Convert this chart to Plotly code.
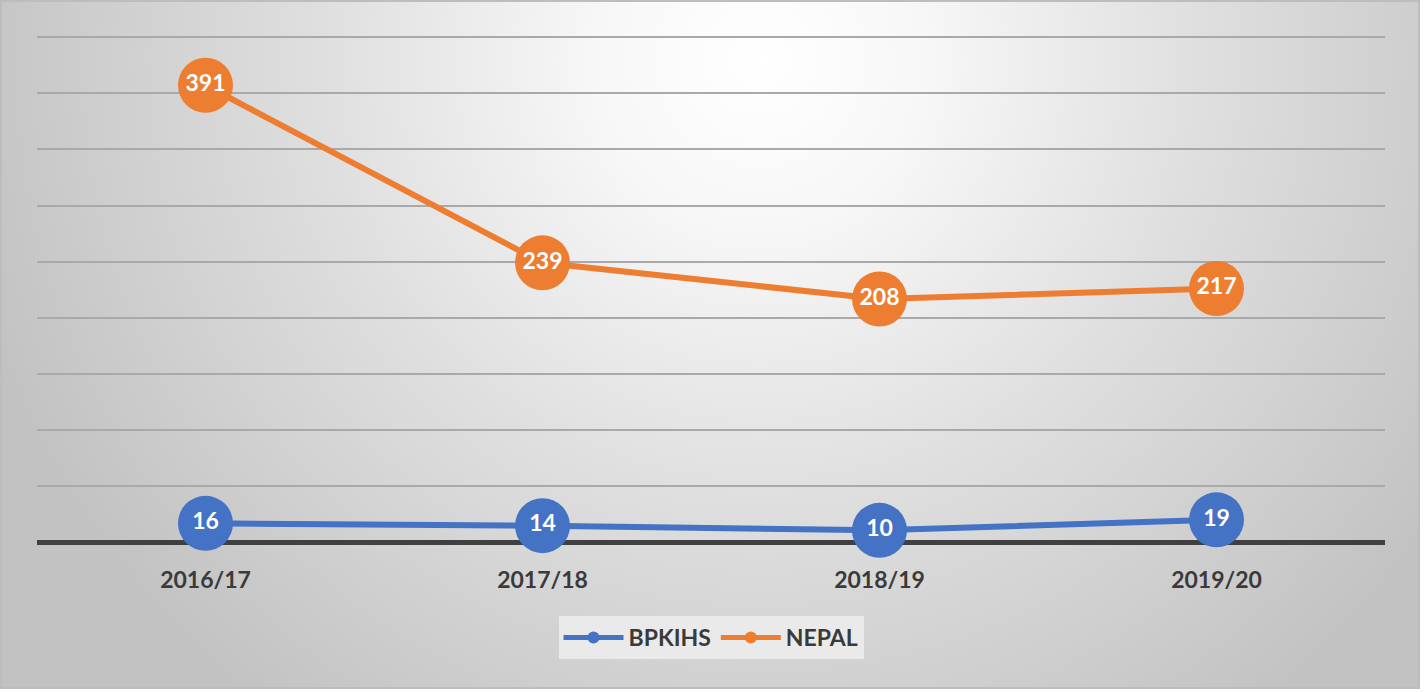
import plotly.graph_objects as go
import urllib.parse

years = ["2016/17", "2017/18", "2018/19", "2019/20"]
bpkihs = [16, 14, 10, 19]
nepal = [391, 239, 208, 217]
series_names = ["BPKIHS", "NEPAL"]
series_colors = ["#4472C4", "#ED7D31"]

W, H = 1424, 692
FONT = "Lato"
ML, MR, MT, MB = 37, 39, 35, 150

svg = f'''<svg xmlns="http://www.w3.org/2000/svg" width="{W}" height="{H}" viewBox="0 0 {W} {H}">
<defs><radialGradient id="g" gradientUnits="userSpaceOnUse" cx="760" cy="60" r="820">
<stop offset="0" stop-color="#ffffff"/>
<stop offset="0.2" stop-color="#f7f7f7"/>
<stop offset="0.55" stop-color="#dedede"/>
<stop offset="1" stop-color="#c2c2c2"/>
</radialGradient></defs>
<rect x="0" y="0" width="1420" height="689" fill="url(#g)"/>
<rect x="1" y="1" width="1418" height="687" fill="none" stroke="#bdbdbd" stroke-width="2"/>
</svg>'''
bg_uri = "data:image/svg+xml;charset=utf-8," + urllib.parse.quote(svg)

fig = go.Figure()
for name, vals, col in zip(series_names, [bpkihs, nepal], series_colors):
    fig.add_trace(go.Scatter(
        x=years, y=vals, name=name, mode="lines+markers",
        line=dict(color=col, width=6),
        marker=dict(color=col, size=55),
        cliponaxis=False,
        hoverinfo="x+y+name",
    ))
for name, vals in zip(series_names, [bpkihs, nepal]):
    fig.add_trace(go.Scatter(
        x=years, y=vals, mode="text", text=[str(v) for v in vals],
        textposition="middle center", showlegend=False,
        textfont=dict(family=FONT, size=23, color="white", weight="bold"),
        cliponaxis=False,
        hoverinfo="skip",
    ))

pw, ph = W - ML - MR, H - MT - MB
fig.update_layout(
    width=W, height=H,
    margin=dict(l=ML, r=MR, t=MT, b=MB),
    paper_bgcolor="rgba(0,0,0,0)",
    plot_bgcolor="rgba(0,0,0,0)",
    font=dict(family=FONT, color="#404040"),
    images=[dict(source=bg_uri, xref="paper", yref="paper",
                 x=-ML / pw, y=1 + MT / ph,
                 sizex=W / pw, sizey=H / ph,
                 xanchor="left", yanchor="top", sizing="stretch", layer="below")],
    xaxis=dict(type="category", range=[-0.5, 3.5], showgrid=False,
               showline=False, zeroline=False, ticks="",
               ticklabelstandoff=22,
               tickfont=dict(family=FONT, size=23, color="#3a3a3a", weight="bold")),
    yaxis=dict(range=[0, 434], dtick=48, tick0=0, showticklabels=False,
               showgrid=True, gridcolor="#a9a9a9", gridwidth=1.5,
               zeroline=True, zerolinecolor="#404040", zerolinewidth=5,
               showline=False),
    legend=dict(orientation="h", x=0.5, xanchor="center", y=-74 / ph, yanchor="top",
                bgcolor="rgba(236,236,236,0.9)", itemsizing="constant",
                font=dict(family=FONT, size=23, color="#3a3a3a", weight="bold"),
                itemwidth=60, tracegroupgap=0),
    showlegend=True,
)

fig.write_html("out.html", config={"displayModeBar": False},
               post_script="document.body.style.margin='0';")
